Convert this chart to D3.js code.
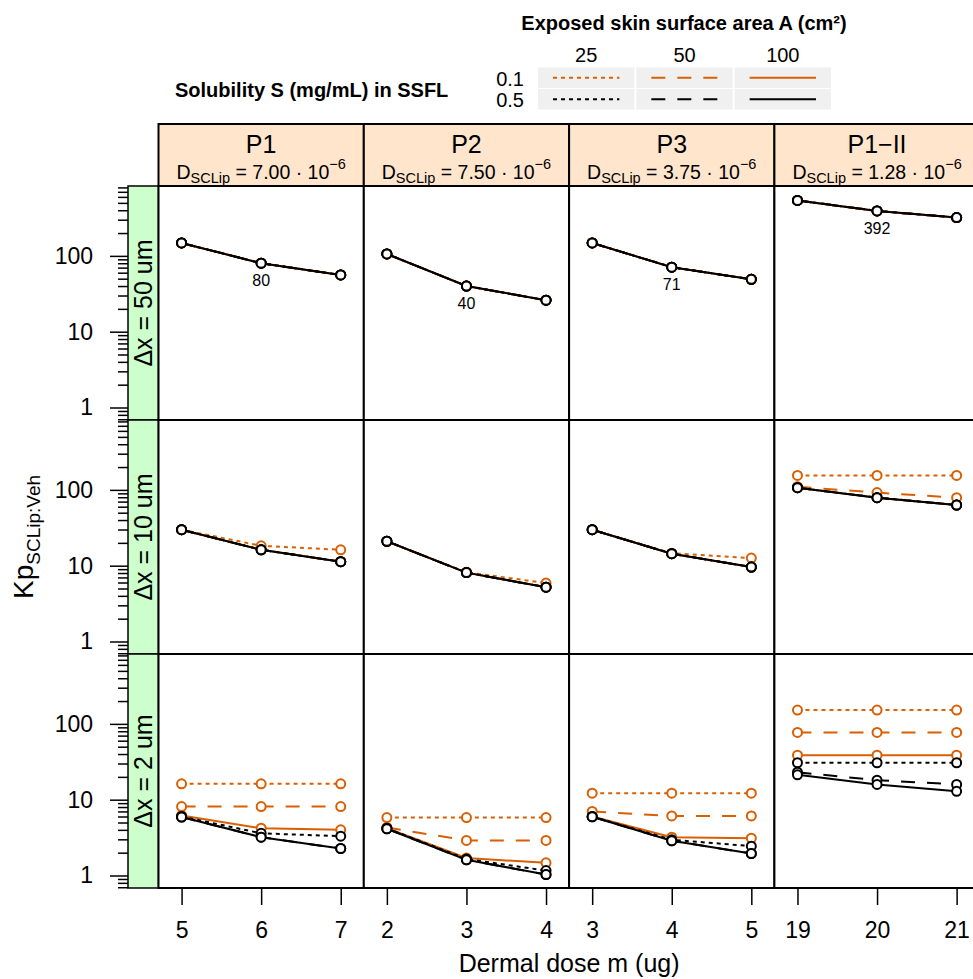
<!DOCTYPE html>
<html lang="en">
<head>
<meta charset="UTF-8">
<title>Kp SCLip:Veh by dermal dose</title>
<script src="https://d3js.org/d3.v7.min.js"></script>
<style>
  body { margin: 0; background: #fff; }
  svg text { font-family: "Liberation Sans", Arial, Helvetica, sans-serif; fill: #000; }
</style>
</head>
<body>
<div id="chart"></div>
<script>

// panel columns
var products = ["P1", "P2", "P3", "P1\u2212II"];
var dSCLip = ["7.00", "7.50", "3.75", "1.28"];
var doses = [[5, 6, 7], [2, 3, 4], [3, 4, 5], [19, 20, 21]];

// panel rows
var thickness = ["\u0394x = 50 um", "\u0394x = 10 um", "\u0394x = 2 um"];

// groups
var solubility = ["0.1", "0.5"];
var area = ["25", "50", "100"];

var yTicks = [1, 10, 100];
var midLabels = ["80", "40", "71", "392"];

// Kp values: one entry per series (S 0.1: A 25, 50, 100 then S 0.5: A 25, 50, 100),
// each holding the 4 panels (P1, P2, P3, P1-II) x 3 doses
var kpDx50 = [
    [[148, 80, 56], [106, 40, 26], [148, 71, 49], [538, 392, 320]],
    [[148, 80, 56], [106, 40, 26], [148, 71, 49], [538, 392, 320]],
    [[148, 80, 56], [106, 40, 26], [148, 71, 49], [538, 392, 320]],
    [[148, 80, 56], [106, 40, 26], [148, 71, 49], [538, 392, 320]],
    [[148, 80, 56], [106, 40, 26], [148, 71, 49], [538, 392, 320]],
    [[148, 80, 56], [106, 40, 26], [148, 71, 49], [538, 392, 320]]
];
var kpDx10 = [
    [[29.8, 18.3, 16.2], [21, 8.2, 5.9], [29.8, 14.6, 12.6], [155, 155, 155]],
    [[29.8, 16.2, 11.3], [21, 8.1, 5.2], [29.8, 14.4, 9.6], [110, 92, 79]],
    [[29.8, 16.2, 11.3], [21, 8.1, 5.2], [29.8, 14.4, 9.6], [107, 79, 63]],
    [[29.8, 16.2, 11.3], [21, 8.1, 5.2], [29.8, 14.4, 9.6], [107, 79, 63]],
    [[29.8, 16.2, 11.3], [21, 8.1, 5.2], [29.8, 14.4, 9.6], [107, 79, 63]],
    [[29.8, 16.2, 11.3], [21, 8.1, 5.2], [29.8, 14.4, 9.6], [107, 79, 63]]
];
var kpDx2 = [
    [[16.2, 16.2, 16.2], [5.8, 5.8, 5.8], [12.2, 12.2, 12.2], [152, 152, 152]],
    [[8.1, 8.1, 8.1], [4.3, 2.9, 2.9], [7.0, 6.1, 6.1], [77, 77, 77]],
    [[6.2, 4.2, 4.0], [4.2, 1.7, 1.47], [6.0, 3.2, 3.1], [38.6, 38.6, 38.6]],
    [[6.0, 3.6, 3.3], [4.2, 1.65, 1.16], [6.0, 2.96, 2.44], [30.7, 30.7, 30.7]],
    [[5.9, 3.2, 2.27], [4.13, 1.61, 1.03], [5.95, 2.87, 1.95], [23, 18.1, 15.9]],
    [[5.9, 3.2, 2.27], [4.13, 1.61, 1.03], [5.95, 2.87, 1.95], [21.3, 15.9, 12.9]]
];

var rowsData = [kpDx50, kpDx10, kpDx2];

// layout
var width = 973, height = 979;
var gridLeft = 158.5, colW = 205.3;
var gridTop = 186, rowH = 234;
var stripTop = 124, stripH = gridTop - stripTop;
var leftStripX = 128, leftStripW = gridLeft - leftStripX;

var orange = "#D95F02";
var colorOf = { "0.1": orange, "0.5": "#000000" };
var dashOf = { "25": "4,4", "50": "14,12", "100": null };

var svg = d3.select("#chart").append("svg")
    .attr("width", width)
    .attr("height", height);

// y scale (log), shared limits
var yLog = d3.scaleLog().domain([0.684, 835]);

// minor ticks 2..9 per decade
var minorTicks = [];
[0.1, 1, 10, 100].forEach(function(base) {
    for (var k = 1; k <= 9; k++) {
        var v = k * base;
        if (v >= 0.684 && v <= 835 && yTicks.indexOf(v) < 0) minorTicks.push(v);
    }
});

var series = [];
solubility.forEach(function(s) {
    area.forEach(function(a) { series.push({ s: s, a: a }); });
});

// top strips
products.forEach(function(p, c) {
    var x0 = gridLeft + c * colW;
    var g = svg.append("g");
    g.append("rect")
        .attr("x", x0).attr("y", stripTop)
        .attr("width", colW).attr("height", stripH)
        .attr("fill", "#FFE5CC").attr("stroke", "#000").attr("stroke-width", 2);
    g.append("text")
        .attr("x", x0 + colW / 2).attr("y", 153)
        .attr("text-anchor", "middle")
        .style("font-size", "25px")
        .text(p);
    var t = g.append("text")
        .attr("x", x0 + colW / 2).attr("y", 179)
        .attr("text-anchor", "middle")
        .style("font-size", "19.5px");
    t.append("tspan").text("D");
    t.append("tspan").attr("dy", 4).style("font-size", "14.5px").text("SCLip");
    t.append("tspan").attr("dy", -4).text(" = " + dSCLip[c] + " \u00B7 10");
    t.append("tspan").attr("dy", -10).style("font-size", "14.5px").text("\u22126");
});

rowsData.forEach(function(rowData, r) {
    var top = gridTop + r * rowH;
    var y = yLog.copy().range([top + rowH, top]);

    // left strip
    svg.append("rect")
        .attr("x", leftStripX).attr("y", top)
        .attr("width", leftStripW).attr("height", rowH)
        .attr("fill", "#CCFFCC").attr("stroke", "#000").attr("stroke-width", 1.5);
    svg.append("text")
        .attr("transform", "translate(" + (leftStripX + leftStripW / 2 + 9) + "," + (top + rowH / 2) + ") rotate(-90)")
        .attr("text-anchor", "middle")
        .style("font-size", "25px")
        .text(thickness[r]);

    // y axis on the left
    var yAxis = svg.append("g")
        .attr("transform", "translate(" + leftStripX + ",0)")
        .call(d3.axisLeft(y).tickValues(yTicks).tickSize(18).tickPadding(17)
            .tickFormat(d3.format("d")));
    yAxis.select(".domain").remove();
    yAxis.selectAll("line").attr("stroke-width", 1.5);
    yAxis.selectAll("text").style("font-size", "23px");

    var yMinor = svg.append("g")
        .attr("transform", "translate(" + leftStripX + ",0)")
        .call(d3.axisLeft(y).tickValues(minorTicks).tickSize(10).tickFormat(""));
    yMinor.select(".domain").remove();
    yMinor.selectAll("line").attr("stroke-width", 1.5);

    products.forEach(function(p, c) {
        var left = gridLeft + c * colW;
        var d = doses[c];
        var x = d3.scaleLinear().domain([d[0] - 0.29, d[2] + 0.29]).range([left, left + colW]);

        var panel = svg.append("g");
        panel.append("rect")
            .attr("x", left).attr("y", top)
            .attr("width", colW).attr("height", rowH)
            .attr("fill", "#fff");

        var line = d3.line()
            .x(function(v, j) { return x(d[j]); })
            .y(function(v) { return y(v); });

        series.forEach(function(sr, i) {
            var vals = rowData[i][c];
            panel.append("path")
                .attr("d", line(vals))
                .attr("fill", "none")
                .attr("stroke", colorOf[sr.s])
                .attr("stroke-width", 2)
                .attr("stroke-dasharray", dashOf[sr.a]);
            panel.selectAll(null)
                .data(vals)
                .enter()
                .append("circle")
                .attr("cx", function(v, j) { return x(d[j]); })
                .attr("cy", function(v) { return y(v); })
                .attr("r", 4.5)
                .attr("fill", "#fff")
                .attr("stroke", colorOf[sr.s])
                .attr("stroke-width", 2);
        });

        // value label under middle point (top row)
        if (r === 0) {
            panel.append("text")
                .attr("x", x(d[1]))
                .attr("y", y(rowData[5][c][1]) + 23)
                .attr("text-anchor", "middle")
                .style("font-size", "16px")
                .text(midLabels[c]);
        }

        panel.append("rect")
            .attr("x", left).attr("y", top)
            .attr("width", colW).attr("height", rowH)
            .attr("fill", "none").attr("stroke", "#000").attr("stroke-width", 2);

        // x axis on the bottom row
        if (r === rowsData.length - 1) {
            var xAxis = svg.append("g")
                .attr("transform", "translate(0," + (top + rowH) + ")")
                .call(d3.axisBottom(x).tickValues(d).tickSize(17).tickPadding(17)
                    .tickFormat(d3.format("d")));
            xAxis.select(".domain").remove();
            xAxis.selectAll("line").attr("stroke-width", 1.5);
            xAxis.selectAll("text").style("font-size", "23px");
        }
    });
});

// axis titles
svg.append("text")
    .attr("x", gridLeft + 2 * colW)
    .attr("y", 972)
    .attr("text-anchor", "middle")
    .style("font-size", "25px")
    .text("Dermal dose m (ug)");

var yTitle = svg.append("text")
    .attr("transform", "translate(33," + (gridTop + 1.5 * rowH) + ") rotate(-90)")
    .attr("text-anchor", "middle")
    .style("font-size", "28px");
yTitle.append("tspan").text("Kp");
yTitle.append("tspan").attr("dy", 7).style("font-size", "19px").text("SCLip:Veh");

// legend
var keyX = d3.scaleBand().domain(area).range([538, 831]).paddingInner(0.02);
var keyY = d3.scaleBand().domain(solubility).range([67.5, 109.5]).paddingInner(0.05);

svg.append("text")
    .attr("x", 684).attr("y", 29.5)
    .attr("text-anchor", "middle")
    .style("font-size", "20px").style("font-weight", "bold")
    .text("Exposed skin surface area A (cm\u00B2)");
svg.append("text")
    .attr("x", 175).attr("y", 97)
    .style("font-size", "20px").style("font-weight", "bold")
    .text("Solubility S (mg/mL) in SSFL");

area.forEach(function(a) {
    svg.append("text")
        .attr("x", keyX(a) + keyX.bandwidth() / 2).attr("y", 62)
        .attr("text-anchor", "middle")
        .style("font-size", "20px")
        .text(a);
});
solubility.forEach(function(s) {
    svg.append("text")
        .attr("x", 524).attr("y", keyY(s) + keyY.bandwidth() / 2 + 8)
        .attr("text-anchor", "end")
        .style("font-size", "20px")
        .text(s);
    area.forEach(function(a) {
        svg.append("rect")
            .attr("x", keyX(a)).attr("y", keyY(s))
            .attr("width", keyX.bandwidth()).attr("height", keyY.bandwidth())
            .attr("fill", "#F0F0F0");
        var ly = keyY(s) + keyY.bandwidth() / 2;
        svg.append("line")
            .attr("x1", keyX(a) + 15).attr("x2", keyX(a) + keyX.bandwidth() - 15)
            .attr("y1", ly).attr("y2", ly)
            .attr("stroke", colorOf[s])
            .attr("stroke-width", 2)
            .attr("stroke-dasharray", dashOf[a]);
    });
});

</script>
</body>
</html>
